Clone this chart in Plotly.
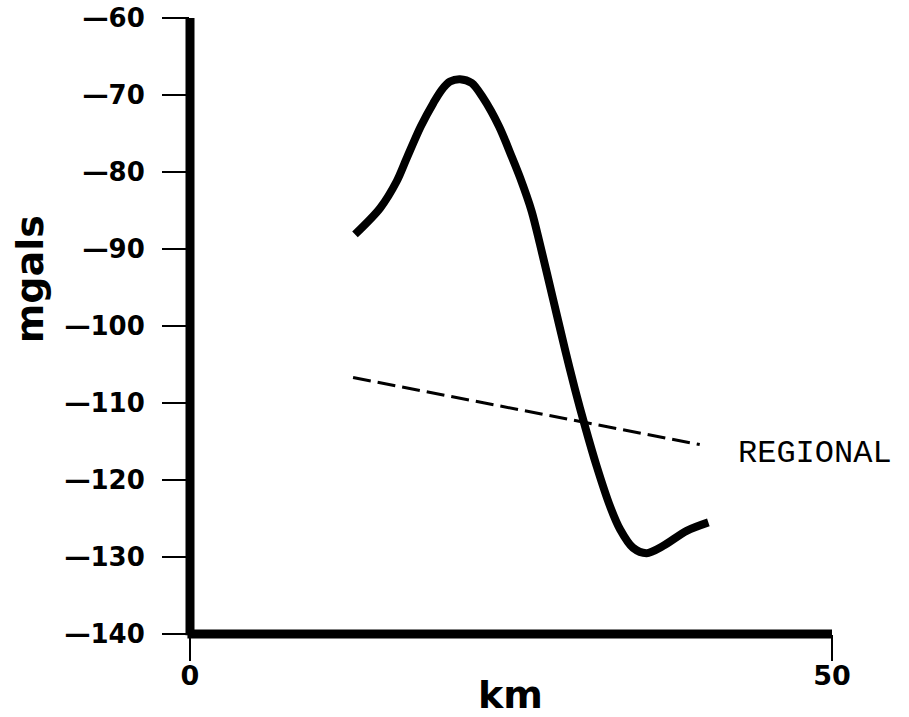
import plotly.graph_objects as go

# Observed gravity profile along the traverse
distance_km = [12.85, 14.8, 16.1, 16.88, 17.97, 18.95, 19.6, 20.25, 21.03, 21.94, 22.8, 24.07,
               25.05, 25.7, 26.61, 27.26, 28.29, 29.2, 29.98, 30.76, 31.67, 32.71, 33.49, 34.5,
               35.57, 36.86, 38.68, 40.37]
gravity_mgal = [-88.1, -84.7, -81.2, -78.2, -74.09, -71.06, -69.34, -68.26, -67.95, -68.45, -70.3, -74.09,
                -77.98, -80.7, -85.1, -89.4, -96.6, -103.0, -108.2, -113.0, -118.2, -123.4, -126.4, -128.8,
                -129.5, -128.55, -126.6, -125.5]

# Regional trend
regional_km = [12.7, 39.7]
regional_mgal = [-106.7, -115.4]

y_ticks = [-60, -70, -80, -90, -100, -110, -120, -130, -140]
y_tick_text = ["\u2014" + str(abs(v)) for v in y_ticks]
x_ticks = [0, 50]
x_tick_text = ["0", "50"]

bold_font = "DejaVu Sans"

fig = go.Figure()

fig.add_trace(go.Scatter(
    x=distance_km, y=gravity_mgal, mode="lines",
    line=dict(color="black", width=8, shape="spline", smoothing=0.85),
    showlegend=False, hoverinfo="skip",
))

fig.add_trace(go.Scatter(
    x=regional_km, y=regional_mgal, mode="lines",
    line=dict(color="black", width=3, dash="18px,7px"),
    showlegend=False, hoverinfo="skip",
))

# Heavy axis lines
fig.add_shape(type="line", xref="x domain", yref="y domain",
              x0=0, x1=0, y0=-0.002, y1=1.0, line=dict(color="black", width=9))
fig.add_shape(type="line", xref="x domain", yref="y domain",
              x0=-0.004, x1=1.0, y0=0, y1=0, line=dict(color="black", width=9))

fig.add_annotation(text="REGIONAL", x=42.55, y=-116.5, xref="x", yref="y",
                   xanchor="left", yanchor="middle", showarrow=False,
                   font=dict(family="Liberation Mono, Courier New, monospace", size=32, color="black"))

fig.add_annotation(text="<b>mgals</b>", x=-0.25, y=0.575, xref="paper", yref="paper",
                   textangle=-90, showarrow=False, xanchor="center", yanchor="middle",
                   font=dict(family=bold_font, size=38, color="black"))

fig.add_annotation(text="<b>km</b>", x=0.499, y=-0.099, xref="paper", yref="paper",
                   showarrow=False, xanchor="center", yanchor="middle",
                   font=dict(family=bold_font, size=38, color="black"))

fig.update_xaxes(
    range=[0, 50], tickvals=x_ticks, ticktext=x_tick_text,
    showgrid=False, zeroline=False, showline=False, automargin=False,
    ticks="outside", ticklen=26, tickwidth=2, tickcolor="black",
    ticklabelstandoff=-8,
    tickfont=dict(family=bold_font, size=27, color="black", weight="bold"),
)
fig.update_yaxes(
    range=[-140, -60], tickvals=y_ticks, ticktext=y_tick_text,
    showgrid=False, zeroline=False, showline=False, automargin=False,
    ticks="outside", ticklen=27, tickwidth=2, tickcolor="black",
    ticklabelstandoff=12,
    tickfont=dict(family=bold_font, size=26, color="black", weight="bold"),
)

fig.update_layout(
    width=909, height=717,
    margin=dict(l=190, r=77, t=18, b=83),
    paper_bgcolor="white", plot_bgcolor="white",
)

fig.write_html("out.html")
